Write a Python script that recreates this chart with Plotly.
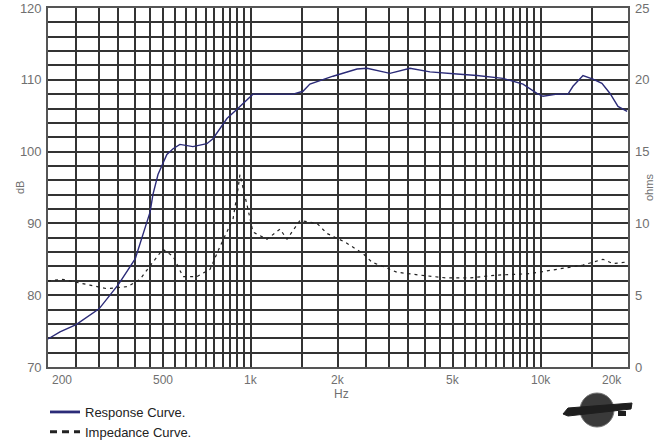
import math
import plotly.graph_objects as go

# ---------------- data ----------------
resp_freq = [200, 220, 250, 300, 350, 400, 450, 460, 479, 514, 540, 570, 632, 706, 741,
             828, 897, 971, 1018, 1194, 1400, 1514, 1600, 1922, 2326, 2518, 3021, 3541,
             4152, 5140, 6028, 7413, 8690, 9705, 10186, 11380, 12420, 12920, 13990,
             15140, 16260, 17340, 18470, 19860]
resp_db = [73.9, 74.9, 75.9, 78.1, 81.5, 85.1, 91.6, 94.0, 96.8, 99.6, 100.4, 101.0, 100.7,
           101.1, 101.8, 104.6, 105.9, 107.3, 108.0, 108.0, 108.0, 108.4, 109.4, 110.5,
           111.5, 111.6, 110.9, 111.6, 111.1, 110.8, 110.6, 110.2, 109.4, 108.1, 107.7,
           108.0, 108.0, 109.1, 110.6, 110.1, 109.5, 108.1, 106.3, 105.6]

imp_freq = [200, 225, 279, 320, 377, 415, 460, 498, 540, 584, 653, 724, 784, 828, 869, 904,
            918, 971, 1018, 1138, 1262, 1334, 1478, 1693, 1832, 1922, 2114, 2438, 2619,
            2858, 3195, 3836, 4751, 5704, 7064, 9181, 11380, 13990, 16400, 17760, 19540]
imp_ohm = [6.0, 6.1, 5.7, 5.45, 5.6, 6.1, 7.3, 8.2, 7.7, 6.3, 6.3, 6.8, 8.4, 9.4, 10.3,
           12.4, 13.4, 11.3, 9.4, 8.9, 9.6, 8.9, 10.2, 10.0, 9.3, 9.1, 8.7, 7.9, 7.3, 7.0,
           6.6, 6.4, 6.2, 6.2, 6.4, 6.5, 6.8, 7.1, 7.5, 7.2, 7.3]

grid_freqs = list(range(200, 1001, 50)) + list(range(1500, 10001, 500)) + [15000, 20000]
x_label_vals = [200, 500, 1000, 2000, 5000, 10000, 20000]
x_label_text = ["200", "500", "1k", "2k", "5k", "10k", "20k"]
db_ticks = list(range(70, 121, 2))
db_labels = [str(v) if v % 10 == 0 else "" for v in db_ticks]
ohm_ticks = [0, 5, 10, 15, 20, 25]
ohm_labels = [str(v) for v in ohm_ticks]

# ---------------- layout geometry ----------------
W, H = 664, 445
ML, MR, MT, MB = 48, 36, 8, 78
PW, PH = W - ML - MR, H - MT - MB


def px_x(p):
    return (p - ML) / PW


def px_y(p):
    return (H - MB - p) / PH


RESP_COLOR = "#2b2b78"
GRID = "#333333"
LABEL = "#707070"

fig = go.Figure()
fig.add_trace(go.Scatter(x=resp_freq, y=resp_db, mode="lines", showlegend=False,
                         line=dict(color=RESP_COLOR, width=1.4), yaxis="y"))
fig.add_trace(go.Scatter(x=imp_freq, y=imp_ohm, mode="lines", showlegend=False,
                         line=dict(color="#222222", width=1.2, dash="3px,4px"), yaxis="y2"))
# legend entries
fig.add_trace(go.Scatter(x=[None], y=[None], mode="lines", name="Response Curve.",
                         line=dict(color=RESP_COLOR, width=2.8)))
fig.add_trace(go.Scatter(x=[None], y=[None], mode="lines", name="Impedance Curve.",
                         line=dict(color="#222222", width=3, dash="7px,5px")))

fig.update_layout(
    width=W, height=H,
    margin=dict(l=ML, r=MR, t=MT, b=MB, pad=0, autoexpand=False),
    paper_bgcolor="white", plot_bgcolor="white",
    font=dict(family="Liberation Sans, Arial, sans-serif", color=LABEL, size=13),
    xaxis=dict(type="log", range=[math.log10(200), math.log10(20000)],
               tickvals=grid_freqs, showticklabels=False, ticks="",
               showgrid=True, gridcolor=GRID, gridwidth=1.7,
               showline=True, mirror=True, linecolor="#555555", linewidth=1.6,
               zeroline=False),
    yaxis=dict(range=[70, 120], tickvals=db_ticks, ticktext=db_labels, ticks="",
               showgrid=True, gridcolor=GRID, gridwidth=1.7, zeroline=False,
               showline=True, mirror=True, linecolor="#555555", linewidth=1.6,
               tickfont=dict(size=13, color=LABEL), ticklabelstandoff=2),
    yaxis2=dict(range=[0, 25], overlaying="y", side="right", tickvals=ohm_ticks,
                ticktext=ohm_labels, ticks="", showgrid=False, zeroline=False,
                tickfont=dict(size=13, color=LABEL), ticklabelstandoff=6),
    legend=dict(x=px_x(45), y=px_y(397), xanchor="left", yanchor="top",
                font=dict(size=13, color="#222222"), bgcolor="rgba(0,0,0,0)",
                tracegroupgap=0, itemwidth=30),
)

annotations = []
for v, t in zip(x_label_vals, x_label_text):
    anchor = "center"
    shift = 0
    if v == x_label_vals[0]:
        anchor, shift = "left", 2
    elif v == x_label_vals[-1]:
        anchor, shift = "right", -4
    annotations.append(dict(x=math.log10(v), y=px_y(380), xref="x", yref="paper",
                            text=t, showarrow=False, xanchor=anchor, yanchor="middle",
                            xshift=shift, font=dict(size=12, color=LABEL)))
annotations.append(dict(x=math.log10(2000), y=px_y(394), xref="x", yref="paper", text="Hz",
                        showarrow=False, xanchor="center", yanchor="middle", xshift=3,
                        font=dict(size=12, color=LABEL)))
annotations.append(dict(x=px_x(12), y=px_y(188), xref="paper", yref="paper", text="dB",
                        showarrow=False, textangle=-90, font=dict(size=11, color=LABEL)))
annotations.append(dict(x=px_x(657), y=px_y(188), xref="paper", yref="paper", text="ohms",
                        showarrow=False, textangle=-90, font=dict(size=11, color=LABEL)))
fig.update_layout(annotations=annotations)

# logo (decorative)
shapes = [
    dict(type="circle", xref="paper", yref="paper",
         x0=px_x(580), x1=px_x(614), y0=px_y(427), y1=px_y(393),
         fillcolor="#3a3a3a", line=dict(color="#777777", width=1)),
    dict(type="path", xref="paper", yref="paper",
         path=("M {},{} L {},{} L {},{} L {},{} L {},{} Z".format(
             px_x(563), px_y(414), px_x(568), px_y(408), px_x(632), px_y(403),
             px_x(631), px_y(409), px_x(568), px_y(416))),
         fillcolor="#1e1e1e", line=dict(color="#1e1e1e", width=1)),
    dict(type="rect", xref="paper", yref="paper",
         x0=px_x(618), x1=px_x(626), y0=px_y(416), y1=px_y(411),
         fillcolor="#1e1e1e", line=dict(width=0)),
]
fig.update_layout(shapes=shapes)

fig.write_html("out.html")
